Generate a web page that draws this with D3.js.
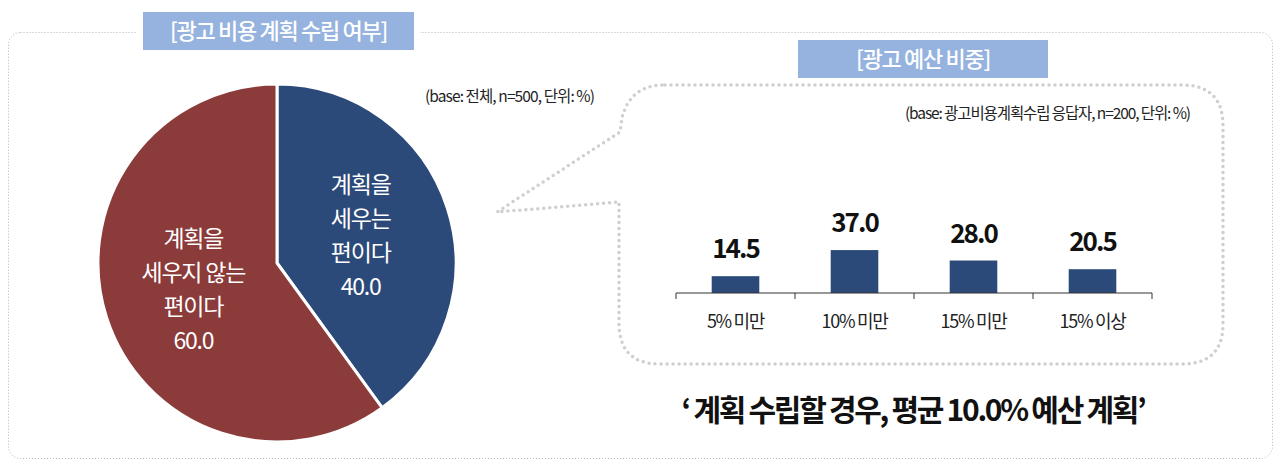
<!DOCTYPE html>
<html><head><meta charset="utf-8">
<script src="https://cdn.jsdelivr.net/npm/d3@7"></script>
<style>
html,body{margin:0;padding:0;background:#fff;}
svg{display:block;font-family:"Noto Sans CJK KR","Noto Sans",sans-serif;}
</style></head>
<body>
<svg id="chart" width="1280" height="466"></svg>
<script>
// ---- data ----
const pieCategories = ["계획을 세우는 편이다", "계획을 세우지 않는 편이다"];
const pieValues = [40.0, 60.0];
const pieLabelLines = [["계획을", "세우는", "편이다"], ["계획을", "세우지 않는", "편이다"]];
const barCategories = ["5% 미만", "10% 미만", "15% 미만", "15% 이상"];
const barValues = [14.5, 37.0, 28.0, 20.5];
const titleLeft = "[광고 비용 계획 수립 여부]";
const titleRight = "[광고 예산 비중]";
const noteLeft = "(base: 전체, n=500, 단위: %)";
const noteRight = "(base: 광고비용계획수립 응답자, n=200, 단위: %)";
const summary = "‘ 계획 수립할 경우, 평균 10.0% 예산 계획’";

const BLUE = "#2c4a79", RED = "#8b3b3a", TITLE_BG = "#95b3de";
const svg = d3.select("#chart");

// outer dotted frame
svg.append("rect").attr("x", 8.5).attr("y", 32.5).attr("width", 1264).attr("height", 426)
  .attr("rx", 12).attr("fill", "none").attr("stroke", "#b5b5b5")
  .attr("stroke-width", 1).attr("stroke-dasharray", "1 2");

// title boxes
function titleBox(x, y, w, h, text) {
  svg.append("rect").attr("x", x - 6).attr("y", y).attr("width", w + 12).attr("height", h).attr("fill", "#fff");
  svg.append("rect").attr("x", x).attr("y", y).attr("width", w).attr("height", h).attr("fill", TITLE_BG);
  svg.append("text").attr("x", x + w / 2).attr("y", y + h / 2 + 8).attr("text-anchor", "middle")
    .attr("fill", "#fff").attr("font-size", 22).attr("font-weight", 500).attr("letter-spacing", -1.3)
    .text(text);
}
titleBox(143, 12, 271, 38, titleLeft);

// ---- pie ----
const cx = 277, cy = 263, R = 179;
const pie = d3.pie().sort(null).value(d => d)(pieValues);
const arc = d3.arc().innerRadius(0).outerRadius(R);
const labelArc = d3.arc().innerRadius(88).outerRadius(88);
const pg = svg.append("g").attr("transform", `translate(${cx},${cy})`);
pg.selectAll("path").data(pie).join("path")
  .attr("d", arc).attr("fill", (d, i) => i === 0 ? BLUE : RED)
  .attr("stroke", "#fff").attr("stroke-width", 3).attr("stroke-linejoin", "round");
pie.forEach((d, i) => {
  const [lx, ly] = labelArc.centroid(d);
  const lines = pieLabelLines[i].concat([d3.format(".1f")(pieValues[i])]);
  const lh = 34;
  const t = pg.append("text").attr("text-anchor", "middle").attr("fill", "#fff")
    .attr("font-size", 23).attr("font-weight", 400).attr("letter-spacing", -1.2);
  lines.forEach((s, k) => {
    t.append("tspan").attr("x", lx).attr("y", ly + (k - (lines.length - 1) / 2) * lh + 8).text(s);
  });
});

svg.append("text").attr("x", 425).attr("y", 102).attr("font-size", 15.5).attr("fill", "#222")
  .attr("letter-spacing", -0.9).text(noteLeft);

// ---- speech bubble ----
const b = d3.path();
b.moveTo(665, 85);
b.lineTo(1182, 85);
b.quadraticCurveTo(1223, 85, 1223, 126);
b.lineTo(1223, 324);
b.quadraticCurveTo(1223, 364, 1182, 364);
b.lineTo(660, 364);
b.quadraticCurveTo(619, 364, 619, 323);
b.lineTo(619, 202);
b.lineTo(497, 212);
b.lineTo(620, 132);
b.lineTo(622, 118);
b.quadraticCurveTo(630, 85, 665, 85);
svg.append("path").attr("d", b.toString()).attr("fill", "none").attr("stroke", "#cfcfcf")
  .attr("stroke-width", 3.5).attr("stroke-linecap", "round").attr("stroke-dasharray", "0 6");

titleBox(798, 40, 250, 38, titleRight);

svg.append("text").attr("x", 1190).attr("y", 119).attr("text-anchor", "end").attr("font-size", 15.5)
  .attr("fill", "#222").attr("letter-spacing", -1.1).text(noteRight);

// ---- bar chart ----
const x0 = 676, x1 = 1152, baseY = 293;
const xb = d3.scaleBand().domain(barCategories).range([x0, x1]).paddingInner(0.6).paddingOuter(0.3);
const xs = d3.scaleBand().domain(barCategories).range([x0, x1]).padding(0);
const y = d3.scaleLinear().domain([0, 100]).range([baseY, baseY - 116]);

svg.append("g").selectAll("rect").data(barValues).join("rect")
  .attr("x", (d, i) => xb(barCategories[i])).attr("width", xb.bandwidth())
  .attr("y", d => y(d)).attr("height", d => baseY - y(d)).attr("fill", BLUE);

svg.append("g").selectAll("text").data(barValues).join("text")
  .attr("x", (d, i) => xb(barCategories[i]) + xb.bandwidth() / 2)
  .attr("y", d => y(d) - 18).attr("text-anchor", "middle")
  .attr("font-size", 26).attr("font-weight", 700).attr("fill", "#111").attr("letter-spacing", -2)
  .text(d => d3.format(".1f")(d));

// axis: domain line + boundary ticks
const ax = svg.append("g").attr("transform", `translate(0,${baseY})`)
  .call(d3.axisBottom(xs).tickSize(0).tickPadding(22));
ax.select(".domain").attr("stroke", "#333").attr("d", `M${x0},0H${x1}`);
ax.selectAll(".tick text").attr("font-size", 18).attr("fill", "#222")
  .attr("font-family", "'Noto Sans CJK KR',sans-serif").attr("letter-spacing", -1.3);
const bounds = barCategories.map(c => xs(c)).concat([x1]);
ax.selectAll("line.bound").data(bounds).join("line").attr("class", "bound")
  .attr("x1", d => d).attr("x2", d => d).attr("y1", 0).attr("y2", 6).attr("stroke", "#333");

// ---- summary ----
svg.append("text").attr("x", 913).attr("y", 421).attr("text-anchor", "middle")
  .attr("font-size", 30).attr("font-weight", 700).attr("fill", "#111").attr("letter-spacing", -2.3)
  .text(summary);
</script>
</body></html>
